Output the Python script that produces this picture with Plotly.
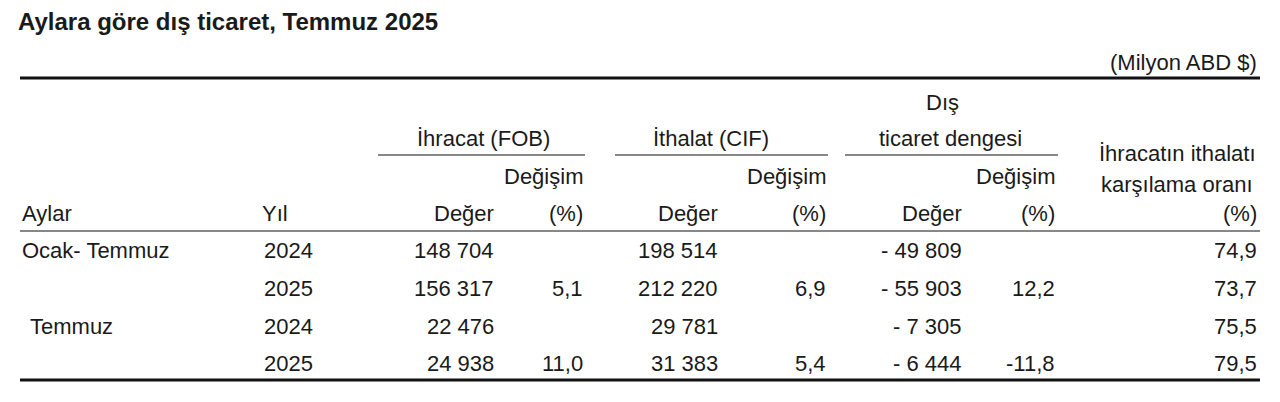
import plotly.graph_objects as go

title = "Aylara göre dış ticaret, Temmuz 2025"
unit = "(Milyon ABD $)"
months = ["Ocak- Temmuz", "", "Temmuz", ""]
years = ["2024", "2025", "2024", "2025"]
exports = ["148 704", "156 317", "22 476", "24 938"]
exports_chg = ["", "5,1", "", "11,0"]
imports = ["198 514", "212 220", "29 781", "31 383"]
imports_chg = ["", "6,9", "", "5,4"]
balance = ["- 49 809", "- 55 903", "- 7 305", "- 6 444"]
balance_chg = ["", "12,2", "", "-11,8"]
ratio = ["74,9", "73,7", "75,5", "79,5"]

FONT = "Liberation Sans, Arial, sans-serif"
C = "#1a1a1a"
fig = go.Figure()
# page body has an 8px margin; shift the coordinate system to compensate
fig.update_xaxes(range=[8, 1288], visible=False, fixedrange=True)
fig.update_yaxes(range=[410, 8], visible=False, fixedrange=True)
fig.update_layout(width=1280, height=402, margin=dict(l=0, r=0, t=0, b=0),
                  plot_bgcolor="white", paper_bgcolor="white", showlegend=False)

def txt(x, y, s, anchor="left", size=22, bold=False):
    fig.add_annotation(x=x, y=y, xref="x", yref="y", text=f"<b>{s}</b>" if bold else s,
                       showarrow=False, xanchor=anchor, yanchor="middle",
                       font=dict(family=FONT, size=size, color=C))

def line(x0, x1, y, w):
    fig.add_shape(type="line", x0=x0, x1=x1, y0=y, y1=y, xref="x", yref="y",
                  line=dict(color="#111", width=w))

txt(16, 21, title, size=24, bold=True)
txt(1259, 62, unit, "right")
line(20, 1260, 78, 3)
txt(942, 102, "Dış", "center")
txt(483, 138, "İhracat (FOB)", "center")
txt(711, 138, "İthalat (CIF)", "center")
txt(950, 138, "ticaret dengesi", "center")
for a, b in [(378, 585), (615, 828), (845, 1058)]:
    line(a, b, 155, 1.2)
for x in [585, 828, 1057]:
    txt(x, 176, "Değişim", "right")
txt(1177, 153, "İhracatın ithalatı", "center")
txt(1177, 184, "karşılama oranı", "center")

hdr_y = 213
txt(20, hdr_y, "Aylar")
txt(260, hdr_y, "Yıl")
for x, s in [(496, "Değer"), (585, "(%)"), (720, "Değer"), (828, "(%)"),
             (964, "Değer"), (1057, "(%)"), (1259, "(%)")]:
    txt(x, hdr_y, s, "right")
line(20, 1260, 231, 1.2)

row_y = [250, 288, 326, 363]
cols = [(496, exports), (585, exports_chg), (720, imports), (828, imports_chg),
        (964, balance), (1057, balance_chg), (1259, ratio)]
for i, y in enumerate(row_y):
    if months[i]:
        txt(20 if i == 0 else 28, y, months[i])
    txt(262, y, years[i])
    for x, arr in cols:
        if arr[i]:
            txt(x, y, arr[i], "right")
line(20, 1260, 380, 3)

fig.write_html("out.html")
